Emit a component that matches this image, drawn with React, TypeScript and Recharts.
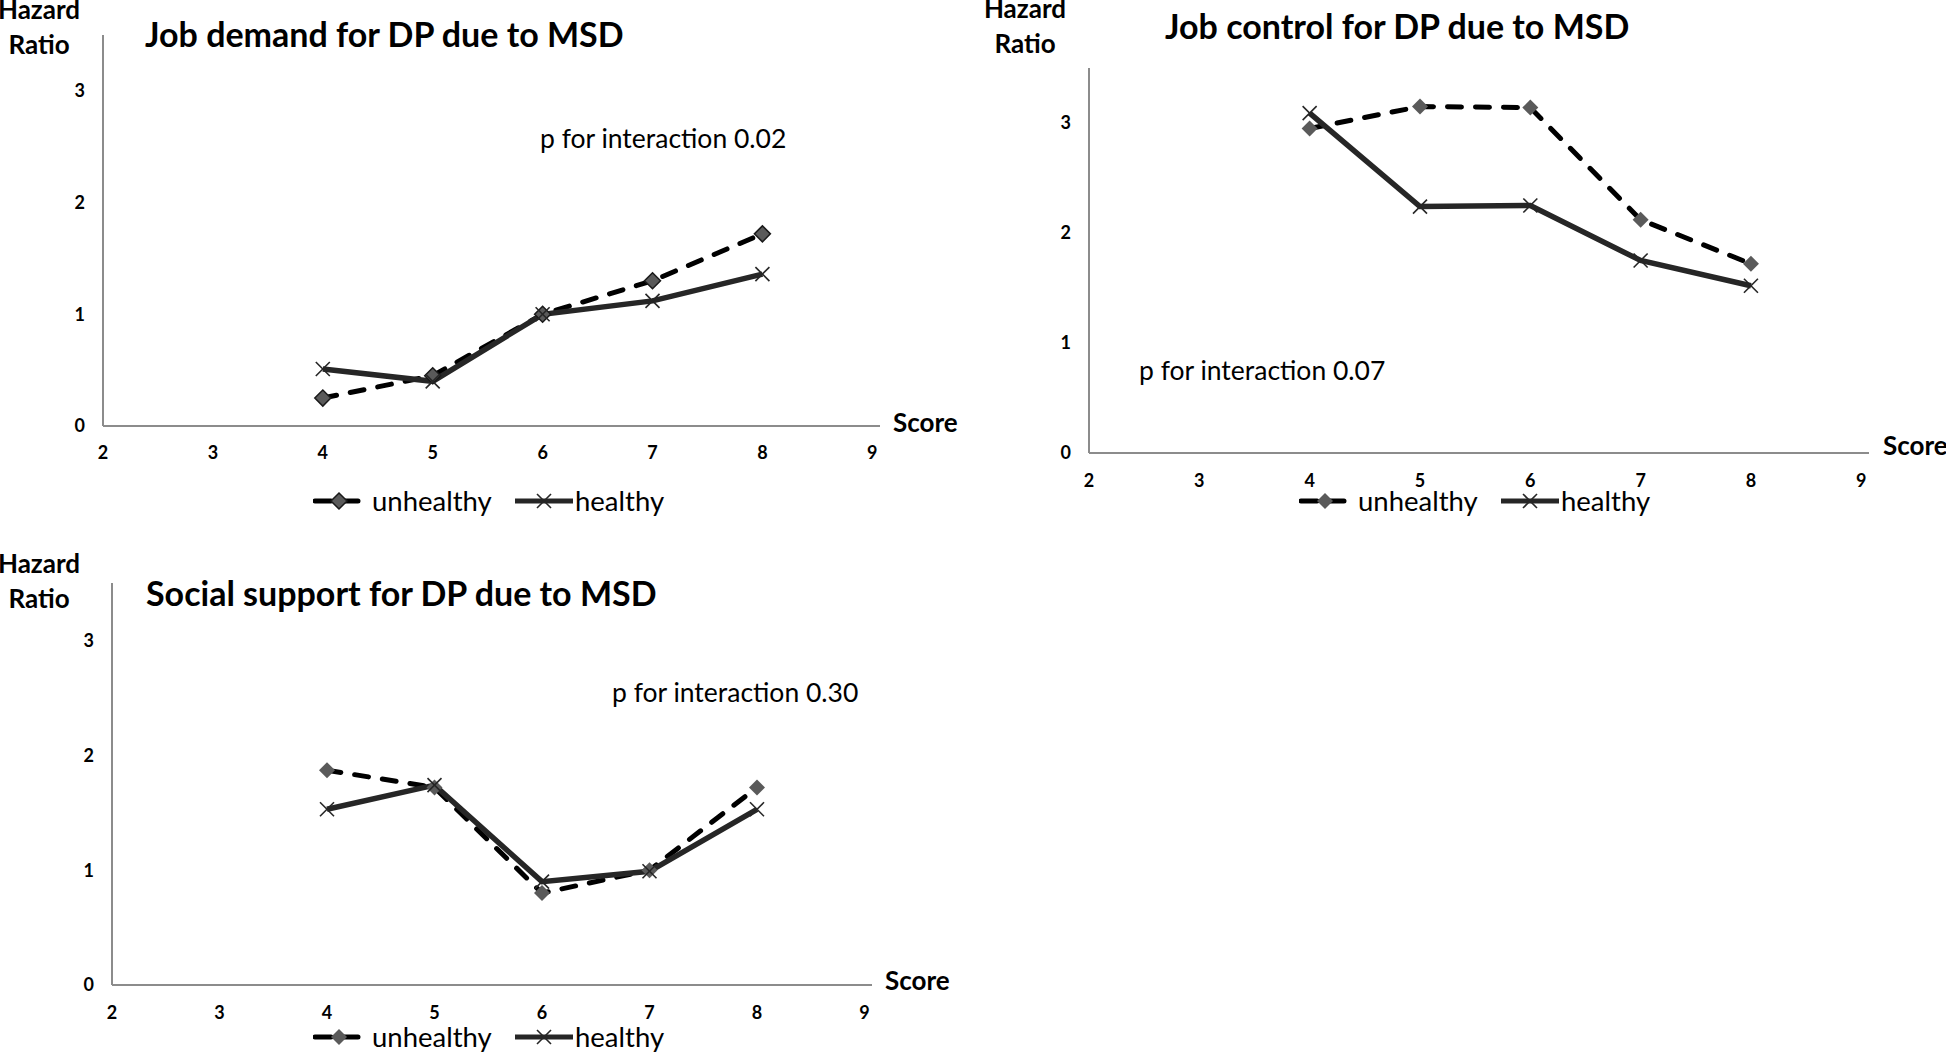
import React from "react";
import { LineChart, Line, XAxis, YAxis, Legend } from "recharts";

// scores on the x axis, hazard ratios
const scores = [4, 5, 6, 7, 8];
const xTicks = [2, 3, 4, 5, 6, 7, 8, 9];
const yTicks = [0, 1, 2, 3];

const demandUnhealthy = [0.25, 0.45, 1.0, 1.3, 1.72];
const demandHealthy = [0.51, 0.4, 1.0, 1.12, 1.36];
const controlUnhealthy = [2.95, 3.15, 3.14, 2.12, 1.72];
const controlHealthy = [3.09, 2.24, 2.25, 1.75, 1.52];
const supportUnhealthy = [1.87, 1.72, 0.8, 1.0, 1.72];
const supportHealthy = [1.53, 1.74, 0.9, 0.99, 1.53];

const titles = [
  "Job demand for DP due to MSD",
  "Job control for DP due to MSD",
  "Social support for DP due to MSD",
];
const pTexts = ["p for interaction 0.02", "p for interaction 0.07", "p for interaction 0.30"];
const seriesNames = ["unhealthy", "healthy"];

const FONT = "Lato, 'Open Sans', sans-serif";
const AXIS = "#8c8c8c";

// page layout of each panel (local coordinates inside the panel box)
const layouts = [
  {
    left: 0, top: 0, width: 975, height: 540,
    plot: { x0: 103, x1: 880, y0: 35, y1: 426 },
    title: { x: 145, y: 33 }, hazard: { x: 39, y1: 19, y2: 54 },
    p: { x: 540, y: 138 }, score: { x: 893, y: 422 },
    legend: { x: 313, y: 483 }, tickMargin: 20, outlined: true,
  },
  {
    left: 975, top: 0, width: 971, height: 540,
    plot: { x0: 114, x1: 894, y0: 68, y1: 453 },
    title: { x: 190, y: 25 }, hazard: { x: 50, y1: 18, y2: 53 },
    p: { x: 164, y: 370 }, score: { x: 908, y: 445 },
    legend: { x: 324, y: 483 }, tickMargin: 21, outlined: false,
  },
  {
    left: 0, top: 540, width: 975, height: 512,
    plot: { x0: 112, x1: 872, y0: 43, y1: 445 },
    title: { x: 146, y: 52 }, hazard: { x: 39, y1: 33, y2: 68 },
    p: { x: 612, y: 152 }, score: { x: 885, y: 440 },
    legend: { x: 313, y: 479 }, tickMargin: 21, outlined: false,
  },
];

const Diamond = ({ cx, cy, outlined, r = 8 }: any) => {
  if (cx == null || cy == null) return null;
  return (
    <polygon
      points={`${cx},${cy - r} ${cx + r},${cy} ${cx},${cy + r} ${cx - r},${cy}`}
      fill="#5a5a5a"
      stroke={outlined ? "#1a1a1a" : "none"}
      strokeWidth={1.5}
    />
  );
};

const Cross = ({ cx, cy, r = 7 }: any) => {
  if (cx == null || cy == null) return null;
  return (
    <g stroke="#262626" strokeWidth={1.6}>
      <line x1={cx - r} y1={cy - r} x2={cx + r} y2={cy + r} />
      <line x1={cx - r} y1={cy + r} x2={cx + r} y2={cy - r} />
    </g>
  );
};

function LegendBox({ outlined }: { outlined: boolean }) {
  const txt: React.CSSProperties = {
    position: "absolute", top: 0, lineHeight: "36px", fontFamily: FONT,
    fontSize: 27.5, color: "#000", whiteSpace: "nowrap",
  };
  return (
    <div style={{ position: "relative", width: 400, height: 36 }}>
      <svg width={52} height={36} style={{ position: "absolute", left: 0, top: 0 }}>
        <line x1={2} y1={18} x2={48} y2={18} stroke="#000" strokeWidth={5} strokeDasharray="16 11" strokeLinecap="round" />
        <Diamond cx={26} cy={18} outlined={outlined} />
      </svg>
      <span style={{ ...txt, left: 59 }}>{seriesNames[0]}</span>
      <svg width={62} height={36} style={{ position: "absolute", left: 200, top: 0 }}>
        <line x1={2} y1={18} x2={60} y2={18} stroke="#262626" strokeWidth={5} />
        <Cross cx={31} cy={18} />
      </svg>
      <span style={{ ...txt, left: 262 }}>{seriesNames[1]}</span>
    </div>
  );
}

function Panel({ idx, unhealthy, healthy }: { idx: number; unhealthy: number[]; healthy: number[] }) {
  const L = layouts[idx];
  const data = scores.map((s, i) => ({ score: s, unhealthy: unhealthy[i], healthy: healthy[i] }));
  const tick = { fontFamily: FONT, fontSize: 18, fontWeight: 700, fill: "#000" };
  const bold = { fontFamily: FONT, fontWeight: 700, fill: "#000" } as const;
  return (
    <div style={{ position: "absolute", left: L.left, top: L.top, width: L.width, height: L.height }}>
      <LineChart
        width={L.width}
        height={L.height}
        data={data}
        margin={{ top: L.plot.y0, right: L.width - L.plot.x1, bottom: L.height - L.plot.y1 - 30, left: 0 }}
      >
        <XAxis
          type="number"
          dataKey="score"
          domain={[2, 9.07]}
          ticks={xTicks}
          height={30}
          axisLine={{ stroke: AXIS, strokeWidth: 2 }}
          tickLine={false}
          tickSize={0}
          tickMargin={L.tickMargin}
          tick={tick}
          allowDataOverflow
        />
        <YAxis
          type="number"
          domain={[0, 3.5]}
          ticks={yTicks}
          width={L.plot.x0}
          axisLine={{ stroke: AXIS, strokeWidth: 2 }}
          tickLine={false}
          tickSize={0}
          tickMargin={18}
          tick={tick}
          allowDataOverflow
        />
        <Line
          dataKey="unhealthy"
          type="linear"
          stroke="#000"
          strokeWidth={5}
          strokeDasharray="14 14"
          strokeLinecap="round"
          dot={(p: any) => <Diamond key={`u${p.index}`} cx={p.cx} cy={p.cy} outlined={L.outlined} />}
          activeDot={false}
          isAnimationActive={false}
        />
        <Line
          dataKey="healthy"
          type="linear"
          stroke="#262626"
          strokeWidth={5.5}
          dot={(p: any) => <Cross key={`h${p.index}`} cx={p.cx} cy={p.cy} />}
          activeDot={false}
          isAnimationActive={false}
        />
        <Legend
          layout="horizontal"
          verticalAlign="middle"
          align="center"
          wrapperStyle={{ left: L.legend.x, top: L.legend.y, width: 400, height: 36 }}
          content={() => <LegendBox outlined={L.outlined} />}
        />
        <text x={L.hazard.x} y={L.hazard.y1} textAnchor="middle" fontSize={26} {...bold}>Hazard</text>
        <text x={L.hazard.x} y={L.hazard.y2} textAnchor="middle" fontSize={26} {...bold}>Ratio</text>
        <text x={L.title.x} y={L.title.y} dominantBaseline="central" fontSize={34} {...bold}>{titles[idx]}</text>
        <text x={L.score.x} y={L.score.y} dominantBaseline="central" fontSize={26} {...bold}>Score</text>
        <text x={L.p.x} y={L.p.y} dominantBaseline="central" fontSize={26.5} fontFamily={FONT} fill="#000">{pTexts[idx]}</text>
      </LineChart>
    </div>
  );
}

export default function App() {
  return (
    <div style={{ position: "absolute", left: 0, top: 0, width: 1946, height: 1052, background: "#fff", overflow: "hidden" }}>
      <Panel idx={0} unhealthy={demandUnhealthy} healthy={demandHealthy} />
      <Panel idx={1} unhealthy={controlUnhealthy} healthy={controlHealthy} />
      <Panel idx={2} unhealthy={supportUnhealthy} healthy={supportHealthy} />
    </div>
  );
}
